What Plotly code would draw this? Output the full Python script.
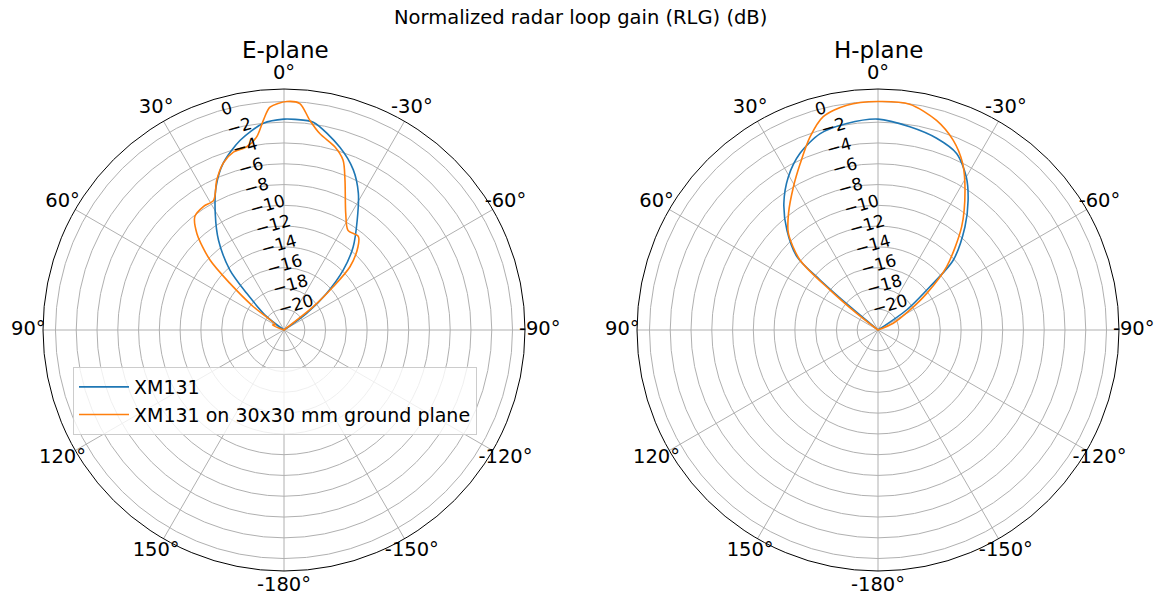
import plotly.graph_objects as go

# ---- data (theta in degrees, positive = counter-clockwise from top; r in dB) ----
e_blue_theta = [-90, -58, -53.6, -49.3, -44.7, -39.8, -33.7, -28.5, -23.4, -17, -8, -3, 0, 5.7, 13, 20, 25.4, 30.6, 36.1, 42, 45.5, 52.4, 56, 90]
e_blue_r = [-22, -22, -19.3, -16.6, -13.9, -11.6, -9.3, -7.0, -5.2, -3.6, -1.8, -1.7, -1.7, -2.0, -3.25, -4.9, -6.75, -9.0, -11.3, -14.2, -17.0, -19.9, -22, -22]

e_orange_theta = [-90, -56, -51.5, -48.7, -46.2, -41.7, -38.5, -32.7, -27.9, -22.1, -19.2, -15.5, -10.4, -7, -4, -0.7, 3.6, 5.6, 8, 11.5, 15.9, 20, 24.2, 28.5, 33, 38.1, 42.1, 46.6, 49.2, 52.8, 58, 67, 72, 90]
e_orange_r = [-22, -22, -18.4, -15.7, -13.2, -11.3, -10.5, -10.6, -9.3, -6.4, -4.7, -3.7, -2.8, -1.65, -0.15, 0.0, -0.5, -1.7, -3.2, -4.0, -4.2, -4.9, -6.2, -7.8, -7.8, -8.1, -9.5, -12.2, -15.1, -18.3, -21.0, -20.8, -22, -22]

h_blue_theta = [-90, -60, -55, -50.2, -47.1, -40.1, -34.8, -30, -24, -17, -8.9, 0, 8.6, 16.4, 23.8, 30.3, 36.6, 42.4, 47.9, 49.2, 50.2, 52, 90]
h_blue_r = [-22, -22, -18.6, -15.5, -12.1, -9.0, -6.8, -5.0, -3.4, -2.7, -2.2, -1.7, -1.9, -2.3, -3.4, -4.9, -6.8, -9.0, -11.5, -14.6, -18.5, -22, -22]

h_orange_theta = [-90, -70, -66, -58, -53, -47.3, -39, -31.9, -26.9, -21.6, -15.6, -8, 0, 7.9, 14.4, 19.4, 25, 30.6, 37.5, 42.8, 48.1, 50.2, 52, 55, 90]
h_orange_r = [-22, -22, -20.4, -18.4, -16.1, -13.0, -9.2, -6.15, -4.0, -2.35, -1.05, -0.05, 0.0, -0.15, -0.8, -2.3, -4.3, -6.0, -7.85, -9.3, -11.9, -16.0, -19.4, -22, -22]

series_names = ["XM131", "XM131 on 30x30 mm ground plane"]
subplot_titles = ["E-plane", "H-plane"]
main_title = "Normalized radar loop gain (RLG) (dB)"

angle_tickvals = [0, 30, 60, 90, 120, 150, 180, 210, 240, 270, 300, 330]
angle_ticktext = ["0°", "30°", "60°", "90°", "120°", "150°", "-180°", "-150°", "-120°", "-90°", "-60°", "-30°"]
radial_tickvals = [-20, -18, -16, -14, -12, -10, -8, -6, -4, -2, 0]
radial_ticktext = ["\u221220", "\u221218", "\u221216", "\u221214", "\u221212", "\u221210",
                   "\u22128", "\u22126", "\u22124", "\u22122", "0"]
r_range = [-22, 1.2]

BLUE = "#1f77b4"
ORANGE = "#ff7f0e"
FONT = "DejaVu Sans"

fig = go.Figure()
fig.add_trace(go.Scatterpolar(theta=e_blue_theta, r=e_blue_r, mode="lines", name=series_names[0],
                              line=dict(color=BLUE, width=1.6, shape="spline", smoothing=0.8),
                              subplot="polar"))
fig.add_trace(go.Scatterpolar(theta=e_orange_theta, r=e_orange_r, mode="lines", name=series_names[1],
                              line=dict(color=ORANGE, width=1.6, shape="spline", smoothing=0.8),
                              subplot="polar"))
fig.add_trace(go.Scatterpolar(theta=h_blue_theta, r=h_blue_r, mode="lines", name=series_names[0],
                              line=dict(color=BLUE, width=1.6, shape="spline", smoothing=0.8),
                              subplot="polar2", showlegend=False))
fig.add_trace(go.Scatterpolar(theta=h_orange_theta, r=h_orange_r, mode="lines", name=series_names[1],
                              line=dict(color=ORANGE, width=1.6, shape="spline", smoothing=0.8),
                              subplot="polar2", showlegend=False))

# angle labels: drawn on invisible, slightly larger overlay polar subplots (same centre)
for sp in ["polar3", "polar4"]:
    fig.add_trace(go.Scatterpolar(theta=angle_tickvals, r=[1.0] * len(angle_tickvals),
                                  mode="text", text=angle_ticktext, textposition="middle center",
                                  textfont=dict(size=19.5, family=FONT, color="black"),
                                  cliponaxis=False, showlegend=False, hoverinfo="skip",
                                  subplot=sp))

W, H = 1160, 595
CY = 330
R = 241


def polar_cfg(cx):
    return dict(
        domain=dict(x=[(cx - R) / W, (cx + R) / W], y=[(H - CY - R) / H, (H - CY + R) / H]),
        bgcolor="white",
        angularaxis=dict(rotation=90, direction="counterclockwise", tickmode="array",
                         tickvals=angle_tickvals, ticktext=angle_ticktext, ticks="",
                         showticklabels=False,
                         showline=True, linecolor="black", linewidth=1,
                         gridcolor="#b0b0b0", gridwidth=0.8),
        radialaxis=dict(range=r_range, tickmode="array", tickvals=radial_tickvals,
                        ticktext=radial_ticktext, showline=False, ticks="", angle=106,
                        tickangle=90, gridcolor="#b0b0b0", gridwidth=0.8,
                        tickfont=dict(size=17, color="black", family=FONT)),
    )


def label_cfg(cx, pad=15):
    RL = R + pad
    return dict(
        domain=dict(x=[(cx - RL) / W, (cx + RL) / W], y=[(H - CY - RL) / H, (H - CY + RL) / H]),
        bgcolor="rgba(0,0,0,0)",
        angularaxis=dict(rotation=90, direction="counterclockwise", showline=False,
                         showgrid=False, showticklabels=False, ticks=""),
        radialaxis=dict(range=[0, 1.001], visible=False, showgrid=False),
    )


fig.update_layout(
    width=W, height=H,
    paper_bgcolor="white", plot_bgcolor="white",
    margin=dict(l=0, r=0, t=0, b=0),
    font=dict(family=FONT, color="black"),
    polar=polar_cfg(284),
    polar2=polar_cfg(878),
    polar3=label_cfg(284),
    polar4=label_cfg(878),
    showlegend=True,
    legend=dict(x=73 / W, y=(H - 367) / H, xanchor="left", yanchor="top", itemwidth=50,
                bgcolor="rgba(255,255,255,0.8)", bordercolor="#cccccc", borderwidth=1,
                font=dict(size=19, family=FONT, color="black")),
    annotations=[
        dict(text=main_title, x=0.5, y=(H - 17) / H, xref="paper", yref="paper",
             showarrow=False, font=dict(size=19.5, family=FONT, color="black"),
             xanchor="center", yanchor="middle"),
        dict(text=subplot_titles[0], x=285 / W, y=(H - 50) / H, xref="paper", yref="paper",
             showarrow=False, font=dict(size=23, family=FONT, color="black"),
             xanchor="center", yanchor="middle"),
        dict(text=subplot_titles[1], x=878 / W, y=(H - 50) / H, xref="paper", yref="paper",
             showarrow=False, font=dict(size=23, family=FONT, color="black"),
             xanchor="center", yanchor="middle"),
    ],
)

fig.write_html("out.html", config={"displayModeBar": False},
               post_script="document.body.style.margin='0';")
